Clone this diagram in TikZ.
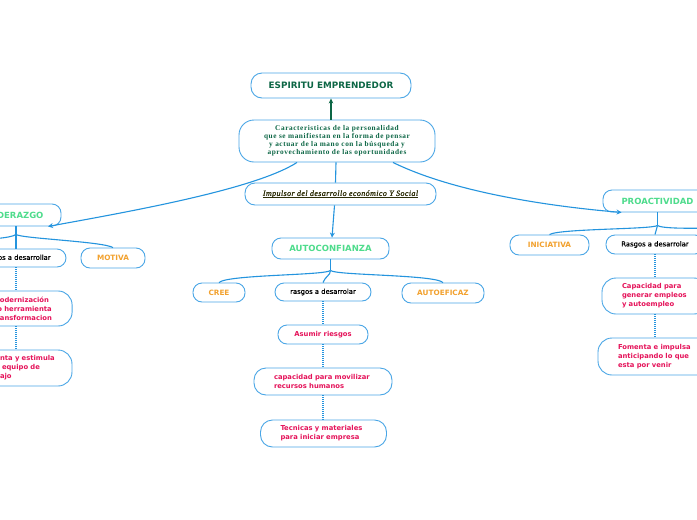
\documentclass[tikz,border=0pt]{standalone}
\usepackage{fontspec}
\setmainfont{DejaVu Sans}
\newfontfamily\charfont[LetterSpace=8]{Liberation Serif}
\newfontfamily\impfont[LetterSpace=5,FakeBold=1.2]{Liberation Serif}
\newfontfamily\traitfont[FakeBold=0.8]{DejaVu Sans}
\newcommand\myul[1]{\setbox0\hbox{#1}\rlap{\rule[-1.3pt]{\wd0}{0.5pt}}\box0}
\usetikzlibrary{arrows.meta}
\definecolor{bd}{HTML}{4AA6E6}
\definecolor{ln}{HTML}{2494DE}
\definecolor{gr}{HTML}{4EDC8C}
\definecolor{og}{HTML}{F2A12E}
\definecolor{pk}{HTML}{E5135A}
\definecolor{dg}{HTML}{0C6645}
\definecolor{ol}{HTML}{2E2E08}
\begin{document}
\begin{tikzpicture}[x=1pt,y=-1pt,
  box/.style={draw=bd, line width=0.9pt, fill=white, rounded corners=9pt, inner sep=1pt},
  green/.style={box, text=gr, font=\fontsize{8.5}{10}\selectfont\bfseries},
  orange/.style={box, text=og, font=\fontsize{7.3}{9}\selectfont\bfseries},
  trait/.style={box, text=black, font=\traitfont\fontsize{6.8}{8}\selectfont},
  pinktext/.style={text=pk, font=\fontsize{6.8}{9}\selectfont\bfseries, align=left},
  pinkbig/.style={box, pinktext, rounded corners=14pt},
  pinkmid/.style={box, pinktext, rounded corners=12pt},
  conn/.style={draw=ln, line width=1.1pt},
  dotc/.style={draw=ln, line width=1.1pt, dash pattern=on 1pt off 1pt},
  tip/.style={-{Stealth[length=5pt,width=5pt]}}
]
\useasboundingbox (0,0) rectangle (697,520);
\fill[white] (0,0) rectangle (697,520);

% main nodes
\node[box, minimum width=160pt, minimum height=25pt, rounded corners=11pt, text=dg,
      font=\fontsize{8.8}{10}\selectfont\bfseries] (esp) at (331,85.5) {ESPIRITU EMPRENDEDOR};
\node[box, rounded corners=15pt, minimum width=196pt, minimum height=42pt, text=dg, align=center,
      font=\charfont\fontsize{7.3}{8}\selectfont\bfseries] (car) at (337,141)
      {Caracteristicas de la personalidad\\que se manifiestan en la forma de pensar\\y actuar de la mano con la búsqueda y\\aprovechamiento de las oportunidades};
\node[box, rounded corners=10pt, minimum width=191pt, minimum height=22pt, text=ol,
      font=\impfont\fontsize{8}{9}\selectfont\itshape] (imp) at (340.5,194)
      {\myul{Impulsor del desarrollo económico Y Social}};
\node[green, minimum width=117pt, minimum height=21pt] (auto) at (330.5,248.5) {AUTOCONFIANZA};
\node[green, minimum width=90pt, minimum height=22pt] (lid) at (16,215) {LIDERAZGO};
\node[green, minimum width=109pt, minimum height=22pt] (pro) at (657.5,201) {PROACTIVIDAD};

% left tree
\node[trait, minimum width=100pt, minimum height=18pt] (lras) at (16,258) {Rasgos a desarrollar};
\node[orange, minimum width=64pt, minimum height=20pt] (mot) at (113,258) {MOTIVA};
\node[pinkbig, minimum width=109pt, minimum height=35pt, text width=72pt] (lmod) at (17.6,308.5)
      {La modernización\\como herramienta\\de transformacion};
\node[pinkbig, minimum width=104pt, minimum height=36pt, text width=72pt] (lori) at (20,368)
      {Orienta y estimula\\a su equipo de\\trabajo};

% center tree
\node[orange, minimum width=52pt, minimum height=19pt] (cree) at (219,292.5) {CREE};
\node[trait, minimum width=96pt, minimum height=18pt] (cras) at (323,292) {rasgos a desarrolar};
\node[orange, minimum width=82pt, minimum height=20pt] (aef) at (443,293) {AUTOEFICAZ};
\node[box, pinktext, minimum width=90pt, minimum height=19pt] (asu) at (323,334.5) {Asumir riesgos};
\node[pinkmid, minimum width=138pt, minimum height=27pt, text width=98pt] (capm) at (323,381.5)
      {capacidad para movilizar\\recursos humanos};
\node[pinkmid, minimum width=126pt, minimum height=27pt, text width=86pt] (tec) at (323.5,433.5)
      {Tecnicas y materiales\\para iniciar empresa};

% right tree
\node[orange, minimum width=79pt, minimum height=20pt] (ini) at (549.5,245) {INICIATIVA};
\node[trait, minimum width=98pt, minimum height=19pt] (rras) at (655,244.5) {Rasgos a desarrolar};
\node[pinkbig, minimum width=106pt, minimum height=36pt, text width=66pt] (capp) at (655,296)
      {Capacidad para\\generar empleos\\y autoempleo};
\node[pinkbig, minimum width=114pt, minimum height=37pt, text width=74pt] (fom) at (655,356.5)
      {Fomenta e impulsa\\anticipando lo que\\esta por venir};

% main connectors
\draw[draw=dg, line width=1.2pt, -{Stealth[length=5pt,width=4.5pt]}] (car.north -| esp.south) -- (esp.south);
\draw[conn] ([xshift=-1pt]car.south) -- ([xshift=-5pt]imp.north);
\draw[conn, tip] ([xshift=-6pt]imp.south) -- ([xshift=1.5pt]auto.north);
\draw[conn, tip] ([xshift=-40pt]car.south) .. controls +(-42,27) and +(82,-15) .. ([xshift=32pt]lid.south);
\draw[conn, tip] ([xshift=56pt]car.south) .. controls +(57,28) and +(-82,-7) .. ([xshift=19pt]pro.south west);

% center branches
\path (auto.south) ++(0,11) coordinate (aj);
\draw[conn] (auto.south) -- (aj);
\draw[conn] (aj) .. controls +(-5,5) and +(8,-8) .. (cree.north);
\draw[conn] (aj) .. controls +(5,5) and +(-8,-8) .. (aef.north);
\draw[conn] (aj) .. controls +(0,5) and +(2,-6) .. (cras.north);

% left branches
\path (lid.south) ++(0,8) coordinate (lj);
\coordinate (lleft) at (-25,241);
\draw[conn] (lid.south) -- (lras.north);
\draw[conn] (lj) .. controls +(5,4) and +(-10,-6) .. (mot.north);
\draw[conn] (lj) .. controls +(-5,4) and +(10,-2) .. (lleft);

% right branches
\path (pro.south) ++(0,13) coordinate (pj);
\coordinate (pright) at (725,228);
\draw[conn] (pro.south) -- (pj);
\draw[conn] (pj) .. controls +(-5,4) and +(10,-6) .. (ini.north);
\draw[conn] (pj) .. controls +(-1,4) and +(1,-5) .. (rras.north);
\draw[conn] (pj) .. controls +(5,4) and +(-20,0) .. (pright);

% dotted links
\draw[dotc] (lras.south) -- (lras.south |- lmod.north);
\draw[dotc] (lras.south |- lmod.south) -- (lras.south |- lori.north);
\draw[dotc] (cras.south) -- (asu.north);
\draw[dotc] (asu.south) -- (capm.north);
\draw[dotc] (capm.south) -- (capm.south |- tec.north);
\draw[dotc] (rras.south) -- (capp.north);
\draw[dotc] (capp.south) -- (fom.north);
\end{tikzpicture}
\end{document}
